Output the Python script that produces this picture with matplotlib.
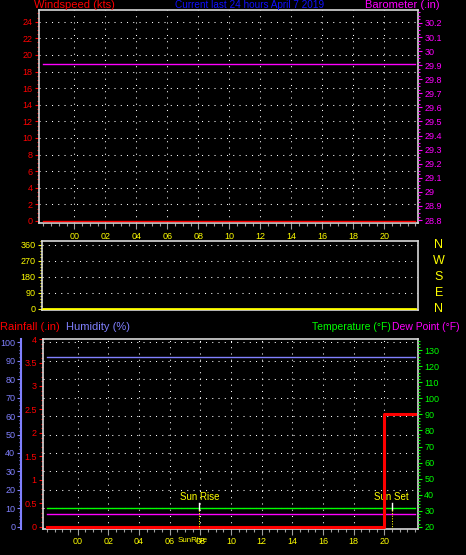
import matplotlib.pyplot as plt
from matplotlib.ticker import MultipleLocator, FixedLocator, FormatStrFormatter

W, H = 466, 555

# --- data ---
hours = [-2, 0, 2, 4, 6, 8, 10, 12, 14, 16, 18, 20, 22]
hour_ticks = [0, 2, 4, 6, 8, 10, 12, 14, 16, 18, 20]
hour_labels = ['00', '02', '04', '06', '08', '10', '12', '14', '16', '18', '20']

windspeed = [0, 0, 0, 0, 0, 0, 0, 0, 0, 0, 0, 0, 0]
barometer = [29.91, 29.91, 29.91, 29.91, 29.91, 29.91, 29.91, 29.91, 29.91, 29.91, 29.91, 29.91, 29.91]
direction = [0, 0, 0, 0, 0, 0, 0, 0, 0, 0, 0, 0, 0]
rainfall = [0, 0, 0, 0, 0, 0, 0, 0, 0, 0, 0, 2.41, 2.41]
humidity = [92, 92, 92, 92, 92, 92, 92, 92, 92, 92, 92, 92, 92]
temperature = [31.7, 31.7, 31.7, 31.7, 31.7, 31.7, 31.7, 31.7, 31.7, 31.7, 31.7, 31.7, 31.7]
dewpoint = [28.1, 28.1, 28.1, 28.1, 28.1, 28.1, 28.1, 28.1, 28.1, 28.1, 28.1, 28.1, 28.1]
compass = ['N', 'W', 'S', 'E', 'N']
compass_deg = [360, 270, 180, 90, 0]
sun_rise = 7.95
sun_set = 20.48

RED = '#ff0000'
MAG = '#ff00ff'
YEL = '#ffff00'
GRN = '#00ff00'
HUM = '#8080ff'
BLUE = '#1010ff'
FRAME = '#d8d8d8'
TICKG = '#a0a0a0'

plt.rcParams['font.family'] = ['Liberation Sans', 'DejaVu Sans']
plt.rcParams['font.size'] = 6

fig = plt.figure(figsize=(W / 100, H / 100), dpi=100, facecolor='black')


def px_axes(l, t, r, b):
    return fig.add_axes([l / W, 1 - b / H, (r - l) / W, (b - t) / H])


def ftext(x, y, s, **kw):
    fig.text(x / W, 1 - y / H, s, va='center', **kw)


def style_frame(ax):
    ax.set_facecolor('black')
    for sp in ax.spines.values():
        sp.set_color(FRAME)
        sp.set_linewidth(1.2)


dots = dict(color='white', linewidth=0.75, dashes=(1, 5))

# ---------------- top panel: windspeed / barometer ----------------
ax1 = px_axes(39, 10, 418, 223)
style_frame(ax1)
ax1.set_xlim(-2.277, 22.17)
ax1.set_ylim(-0.241, 25.41)
for v in range(2, 25, 2):
    ax1.axhline(v, **dots, zorder=1)
for h in hour_ticks:
    ax1.axvline(h, **dots, zorder=1)
ax1.plot(hours, windspeed, color=RED, linewidth=1.0, zorder=3)
ax1.yaxis.set_major_locator(MultipleLocator(2))
ax1.yaxis.set_minor_locator(MultipleLocator(0.5))
ax1.tick_params(axis='y', colors=RED, labelsize=6.5, length=3, width=0.8, pad=1.5)
ax1.tick_params(axis='y', which='minor', colors=RED, length=1.5, width=0.8)
ax1.xaxis.set_major_locator(FixedLocator(hour_ticks))
ax1.set_xticklabels(hour_labels)
ax1.xaxis.set_minor_locator(MultipleLocator(0.5))
ax1.tick_params(axis='x', colors=TICKG, labelcolor=YEL, labelsize=6.5, length=4, width=0.8, pad=2.5)
ax1.tick_params(axis='x', which='minor', colors=TICKG, length=2.5, width=0.8)

ax1b = ax1.twinx()
ax1b.set_ylim(28.779, 30.292)
ax1b.plot(hours, barometer, color=MAG, linewidth=1.0, zorder=3)
ax1b.yaxis.set_major_locator(MultipleLocator(0.1))
ax1b.yaxis.set_minor_locator(MultipleLocator(0.025))
ax1b.yaxis.set_major_formatter(FormatStrFormatter('%g'))
ax1b.tick_params(axis='y', colors=MAG, labelsize=6.5, length=3, width=0.8, pad=1.5)
ax1b.tick_params(axis='y', which='minor', colors=MAG, length=1.5, width=0.8)
for sp in ax1b.spines.values():
    sp.set_visible(False)

ftext(34, 5, 'Windspeed (kts)', color=RED, fontsize=8, ha='left')
ftext(250, 5, 'Current last 24 hours April 7 2019', color=BLUE, fontsize=7.2, ha='center')
ftext(440, 5, 'Barometer (.in)', color=MAG, fontsize=8, ha='right')

# ---------------- middle panel: wind direction ----------------
ax2 = px_axes(42, 241, 418, 310)
style_frame(ax2)
ax2.set_xlim(-2.084, 22.17)
ax2.set_ylim(-7.3, 380.8)
for v in [90, 180, 270, 360]:
    ax2.axhline(v, **dots, zorder=1)
ax2.plot(hours, direction, color=YEL, linewidth=2.0, zorder=3)
ax2.yaxis.set_major_locator(FixedLocator([0, 90, 180, 270, 360]))
ax2.yaxis.set_minor_locator(MultipleLocator(18))
ax2.tick_params(axis='y', colors=YEL, labelsize=6.5, length=3, width=0.8, pad=1.5)
ax2.tick_params(axis='y', which='minor', colors=YEL, length=1.5, width=0.8)
ax2.set_xticks([])

for c, d in zip(compass, compass_deg):
    ax2.text(1.055, d, c, color=YEL, fontsize=9, ha='center', va='center',
             transform=ax2.get_yaxis_transform())

# ---------------- bottom panel: rain / humidity / temperature ----------------
ax3 = px_axes(43, 339, 418, 529)
style_frame(ax3)
ax3.set_xlim(-2.254, 22.20)
ax3.set_ylim(-0.049, 4.002)
ax3.yaxis.set_major_locator(MultipleLocator(0.5))
ax3.yaxis.set_minor_locator(MultipleLocator(0.1))
ax3.yaxis.set_major_formatter(FormatStrFormatter('%g'))
ax3.tick_params(axis='y', colors=RED, labelsize=6.5, length=3, width=0.8, pad=1.5)
ax3.tick_params(axis='y', which='minor', colors=RED, length=1.5, width=0.8)
ax3.xaxis.set_major_locator(FixedLocator(hour_ticks))
ax3.set_xticklabels(hour_labels)
ax3.xaxis.set_minor_locator(MultipleLocator(0.5))
ax3.tick_params(axis='x', colors=TICKG, labelcolor=YEL, labelsize=6.5, length=4, width=0.8, pad=2.0)
ax3.tick_params(axis='x', which='minor', colors=TICKG, length=2.5, width=0.8)

ax3h = ax3.twinx()
ax3h.set_ylim(-1.25, 101.8)
for v in range(10, 101, 10):
    ax3h.axhline(v, **dots, zorder=1)
for h in hour_ticks:
    ax3h.axvline(h, **dots, zorder=1)
ax3h.plot(hours, humidity, color=HUM, linewidth=1.0, zorder=3)
ax3h.yaxis.set_ticks_position('left')
ax3h.yaxis.set_label_position('left')
for k, sp in ax3h.spines.items():
    sp.set_visible(k == 'left')
ax3h.spines['left'].set_position(('outward', 15.5))
ax3h.spines['left'].set_color(HUM)
ax3h.spines['left'].set_linewidth(1.5)
ax3h.yaxis.set_major_locator(MultipleLocator(10))
ax3h.yaxis.set_minor_locator(MultipleLocator(2))
ax3h.tick_params(axis='y', colors=HUM, labelsize=6.5, length=3, width=0.8, pad=1.5)
ax3h.tick_params(axis='y', which='minor', colors=HUM, length=1.5, width=0.8)

ax3t = ax3.twinx()
ax3t.set_ylim(18.6, 137.0)
ax3t.plot(hours, temperature, color=GRN, linewidth=1.0, zorder=3)
ax3t.plot(hours, dewpoint, color=MAG, linewidth=1.0, zorder=3)
ax3t.yaxis.set_major_locator(MultipleLocator(10))
ax3t.yaxis.set_minor_locator(MultipleLocator(2))
ax3t.tick_params(axis='y', colors=GRN, labelsize=6.5, length=3, width=0.8, pad=1.5)
ax3t.tick_params(axis='y', which='minor', colors=GRN, length=1.5, width=0.8)
for sp in ax3t.spines.values():
    sp.set_visible(False)

# rainfall drawn last so it sits on top
ax3r = ax3.twinx()
ax3r.set_ylim(ax3.get_ylim())
ax3r.set_yticks([])
for sp in ax3r.spines.values():
    sp.set_visible(False)
ax3r.plot(hours, rainfall, color=RED, linewidth=2.2, drawstyle='steps-post', zorder=4)

# sun rise / sun set markers
xt = ax3r.get_xaxis_transform()
for hx, lab in [(sun_rise, 'Sun Rise'), (sun_set, 'Sun Set')]:
    ax3r.plot([hx, hx], [0.138, 0.10], color='white', linewidth=1.0, transform=xt, zorder=5)
    ax3r.plot([hx, hx], [0.10, 0.0], color=YEL, linewidth=0.75, dashes=(1, 1.5), transform=xt, zorder=5)
    ax3r.text(hx, 0.166, lab, color=YEL, fontsize=7, ha='center', va='center', transform=xt)
# the reference draws this label on top of the "08" tick label
ax3r.text(sun_rise - 0.45, -0.058, 'SunRise', color=YEL, fontsize=5.8, ha='center', va='center',
          transform=xt, clip_on=False)

ftext(0, 327, 'Rainfall (.in)', color=RED, fontsize=8, ha='left')
ftext(66, 327, 'Humidity (%)', color=HUM, fontsize=8, ha='left')
ftext(391, 327, 'Temperature (°F)', color=GRN, fontsize=7.5, ha='right')
ftext(392, 327, 'Dew Point (°F)', color=MAG, fontsize=7.5, ha='left')

fig.savefig('out.png', dpi=100, facecolor='black')
